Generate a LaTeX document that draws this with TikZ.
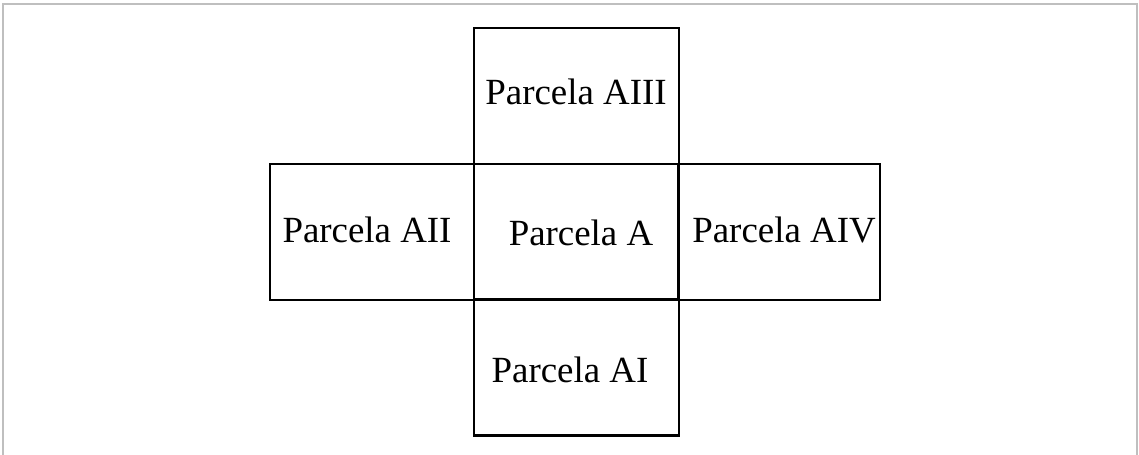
\documentclass[tikz,border=0pt]{standalone}
\usepackage{fontspec}
\setmainfont{Liberation Serif}
\begin{document}
\begin{tikzpicture}[x=0.02cm,y=-0.02cm,
  plot/.style={draw=black,line width=1.6pt,inner sep=0pt,minimum height=2.72cm},
  lbl/.style={anchor=base,inner sep=0pt,font=\fontsize{21pt}{25pt}\selectfont}]
\useasboundingbox (0,0) rectangle (1139,455);
\draw[color=black!25,line width=0.9pt] (3,455) -- (3,4) -- (1137,4) -- (1137,455);
\node[plot,minimum width=4.1cm] (top) at (576.5,96) {};
\node[plot,minimum width=4.1cm] (bot) at (576.5,367.5) {};
\node[plot,minimum width=4.08cm] (left) at (372,232) {};
\node[plot,minimum width=4.04cm] (right) at (779,232) {};
\node[plot,minimum width=4.1cm] (mid) at (576.5,232) {};
\node[lbl] (tAIII) at (576,105) {Parcela AIII};
\node[lbl] (tAII) at (367,243) {Parcela AII};
\node[lbl] (tA) at (581,246) {Parcela A};
\node[lbl] (tAIV) at (784,243) {Parcela AIV};
\node[lbl] (tAI) at (570,383) {Parcela AI};
\end{tikzpicture}
\end{document}
